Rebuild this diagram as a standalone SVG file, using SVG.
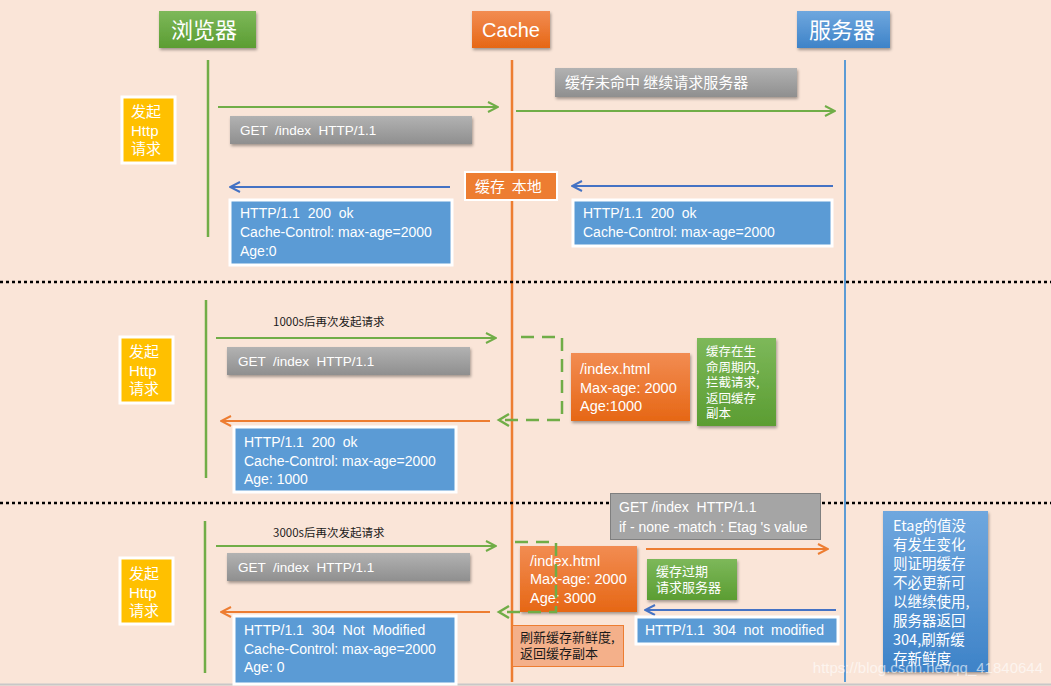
<svg xmlns="http://www.w3.org/2000/svg" width="1051" height="686" viewBox="0 0 1051 686">
<defs>
<style>
text{white-space:pre}
.t{font-family:"Liberation Sans","Noto Sans CJK SC",sans-serif;fill:#ffffff}
.cj{font-family:"Noto Sans CJK SC","Liberation Sans",sans-serif;fill:#ffffff}
.dk{fill:#1a1a1a}
.grn{stroke:#70ad47;stroke-width:2;fill:none}
.org{stroke:#ed7d31;stroke-width:2;fill:none}
.blu{stroke:#4472c4;stroke-width:2;fill:none}
.dash{stroke:#70ad47;stroke-width:2.5;fill:none;stroke-dasharray:13,8}
.sep{stroke:#000;stroke-width:2.5;stroke-dasharray:3,3;fill:none}
.box-blue{fill:#5b9bd5;stroke:#ffffff;stroke-width:3}
.box-yel{fill:#ffc000;stroke:#ffffff;stroke-width:3}
</style>
<linearGradient id="gGray" x1="0" y1="0" x2="0" y2="1"><stop offset="0" stop-color="#b2b2b2"/><stop offset="1" stop-color="#8f8f8f"/></linearGradient>
<linearGradient id="gOrg" x1="0" y1="0" x2="0" y2="1"><stop offset="0" stop-color="#f28c52"/><stop offset="1" stop-color="#e66715"/></linearGradient>
<linearGradient id="gGrn" x1="0" y1="0" x2="0" y2="1"><stop offset="0" stop-color="#7db85a"/><stop offset="1" stop-color="#5b9d32"/></linearGradient>
<linearGradient id="gBlu" x1="0" y1="0" x2="0" y2="1"><stop offset="0" stop-color="#6fa7de"/><stop offset="1" stop-color="#3e83c8"/></linearGradient>
<filter id="sh" x="-10%" y="-10%" width="130%" height="140%"><feDropShadow dx="1" dy="2" stdDeviation="1.5" flood-color="#000" flood-opacity="0.35"/></filter>
<marker id="aG" viewBox="0 0 12 12" refX="11" refY="6" markerWidth="12" markerHeight="12" markerUnits="userSpaceOnUse" orient="auto"><path d="M1,1 L11,6 L1,11" fill="none" stroke="#70ad47" stroke-width="2"/></marker>
<marker id="aO" viewBox="0 0 12 12" refX="11" refY="6" markerWidth="12" markerHeight="12" markerUnits="userSpaceOnUse" orient="auto"><path d="M1,1 L11,6 L1,11" fill="none" stroke="#ed7d31" stroke-width="2"/></marker>
<marker id="aB" viewBox="0 0 12 12" refX="11" refY="6" markerWidth="12" markerHeight="12" markerUnits="userSpaceOnUse" orient="auto"><path d="M1,1 L11,6 L1,11" fill="none" stroke="#4472c4" stroke-width="2"/></marker>
</defs>
<rect x="0" y="0" width="1051" height="686" fill="#fae5d8"/>
<line x1="0" y1="684.5" x2="1051" y2="684.5" stroke="#c8c8c8" stroke-width="2"/>

<g id="lifelines">
<line x1="208" y1="60" x2="208" y2="237" stroke="#70ad47" stroke-width="2.5"/>
<line x1="206" y1="300" x2="206" y2="478" stroke="#70ad47" stroke-width="2.5"/>
<line x1="205" y1="521" x2="205" y2="673" stroke="#70ad47" stroke-width="2.5"/>
<line x1="512" y1="60" x2="512" y2="682" stroke="#ed7d31" stroke-width="2.5"/>
<line x1="845" y1="60" x2="845" y2="682" stroke="#5b9bd5" stroke-width="2"/>
</g>

<g id="separators">
<line class="sep" x1="0" y1="282" x2="1051" y2="282"/>
<line class="sep" x1="0" y1="503" x2="1051" y2="503"/>
</g>

<g id="header-browser"><rect x="159" y="11" width="97" height="37" fill="url(#gGrn)" filter="url(#sh)"/><text class="cj" x="204" y="38" font-size="22" text-anchor="middle">浏览器</text></g>
<g id="header-cache"><rect x="472" y="11" width="78" height="37" fill="url(#gOrg)" filter="url(#sh)"/><text class="t" x="511" y="37" font-size="20" text-anchor="middle">Cache</text></g>
<g id="header-server"><rect x="797" y="11" width="93" height="37" fill="url(#gBlu)" filter="url(#sh)"/><text class="cj" x="842" y="38" font-size="22" text-anchor="middle">服务器</text></g>

<g id="connectors">
<line class="grn" x1="218" y1="107" x2="498" y2="107" marker-end="url(#aG)"/>
<line class="grn" x1="516" y1="111" x2="835" y2="111" marker-end="url(#aG)"/>
<line class="blu" x1="833" y1="186" x2="572" y2="186" marker-end="url(#aB)"/>
<line class="blu" x1="450" y1="187" x2="230" y2="187" marker-end="url(#aB)"/>
<line class="grn" x1="216" y1="338" x2="496" y2="338" marker-end="url(#aG)"/>
<line class="org" x1="490" y1="421" x2="221" y2="421" marker-end="url(#aO)"/>
<line class="grn" x1="216" y1="546" x2="496" y2="546" marker-end="url(#aG)"/>
<line class="org" x1="490" y1="612" x2="221" y2="612" marker-end="url(#aO)"/>
<line class="org" x1="646" y1="549" x2="828" y2="549" marker-end="url(#aO)"/>
<line class="blu" x1="836" y1="610" x2="645" y2="610" marker-end="url(#aB)"/>
<path class="dash" d="M521,337 H562 V420 H499"/>
<path d="M509,414 L499,420 L509,426" fill="none" stroke="#70ad47" stroke-width="2.5"/>
</g>

<g id="s1-start"><rect class="box-yel" x="122" y="97" width="53" height="66"/><text class="cj" x="131" y="117" font-size="15">发起</text><text class="t" x="131" y="136" font-size="15">Http</text><text class="cj" x="131" y="154" font-size="15">请求</text></g>
<g id="s1-get"><rect x="230" y="116" width="242" height="28" fill="url(#gGray)" filter="url(#sh)"/><text class="t" x="240" y="135" font-size="13.5">GET  /index  HTTP/1.1</text></g>
<g id="s1-miss"><rect x="555" y="68" width="242" height="29" fill="url(#gGray)" filter="url(#sh)"/><text class="cj" x="565" y="88" font-size="15">缓存未命中 继续请求服务器</text></g>
<g id="s1-store"><rect x="465" y="172" width="92" height="28" fill="#ed7d31" stroke="#ffffff" stroke-width="2"/><text class="cj" x="475" y="192" font-size="15">缓存  本地</text></g>
<g id="s1-resp-browser"><rect class="box-blue" x="230" y="200" width="222" height="65"/><text class="t" x="240" y="218" font-size="14">HTTP/1.1  200  ok</text><text class="t" x="240" y="237" font-size="14">Cache-Control: max-age=2000</text><text class="t" x="240" y="256" font-size="14">Age:0</text></g>
<g id="s1-resp-server"><rect class="box-blue" x="573" y="200" width="259" height="46"/><text class="t" x="583" y="218" font-size="14">HTTP/1.1  200  ok</text><text class="t" x="583" y="237" font-size="14">Cache-Control: max-age=2000</text></g>

<g id="s2-start"><rect class="box-yel" x="120" y="337" width="53" height="66"/><text class="cj" x="129" y="357" font-size="15">发起</text><text class="t" x="129" y="376" font-size="15">Http</text><text class="cj" x="129" y="394" font-size="15">请求</text></g>
<g id="s2-label"><text class="cj dk" x="273" y="326" font-size="11.5">1000s后再次发起请求</text></g>
<g id="s2-get"><rect x="227" y="347" width="243" height="28" fill="url(#gGray)" filter="url(#sh)"/><text class="t" x="238" y="366" font-size="13.5">GET  /index  HTTP/1.1</text></g>
<g id="s2-cache"><rect x="571" y="353" width="119" height="68" fill="url(#gOrg)" filter="url(#sh)"/><text class="t" x="580" y="374" font-size="14.5">/index.html</text><text class="t" x="580" y="393" font-size="14.5">Max-age: 2000</text><text class="t" x="580" y="411" font-size="14.5">Age:1000</text></g>
<g id="s2-note"><rect x="697" y="338" width="79" height="88" fill="url(#gGrn)" filter="url(#sh)"/><text class="cj" x="706" y="356" font-size="12.5">缓存在生</text><text class="cj" x="706" y="371.5" font-size="12.5">命周期内,</text><text class="cj" x="706" y="387" font-size="12.5">拦截请求,</text><text class="cj" x="706" y="402.5" font-size="12.5">返回缓存</text><text class="cj" x="706" y="418" font-size="12.5">副本</text></g>
<g id="s2-resp"><rect class="box-blue" x="234" y="427" width="222" height="65"/><text class="t" x="244" y="447" font-size="14">HTTP/1.1  200  ok</text><text class="t" x="244" y="466" font-size="14">Cache-Control: max-age=2000</text><text class="t" x="244" y="484" font-size="14">Age: 1000</text></g>

<g id="s3-start"><rect class="box-yel" x="120" y="558" width="53" height="66"/><text class="cj" x="129" y="579" font-size="15">发起</text><text class="t" x="129" y="598" font-size="15">Http</text><text class="cj" x="129" y="616" font-size="15">请求</text></g>
<g id="s3-label"><text class="cj dk" x="273" y="537" font-size="11.5">3000s后再次发起请求</text></g>
<g id="s3-get"><rect x="227" y="553" width="243" height="28" fill="url(#gGray)" filter="url(#sh)"/><text class="t" x="238" y="572" font-size="13.5">GET  /index  HTTP/1.1</text></g>
<g id="s3-cond"><rect x="610.5" y="493.5" width="210" height="46" fill="#a5a5a5" stroke="#7f7f7f" stroke-width="1"/><text class="t" x="619" y="512" font-size="14">GET /index  HTTP/1.1</text><text class="t" x="619" y="532" font-size="14">if - none -match : Etag 's value</text></g>
<g id="s3-cache"><rect x="520" y="546" width="117" height="66" fill="url(#gOrg)" filter="url(#sh)"/><text class="t" x="530" y="566" font-size="14.5">/index.html</text><text class="t" x="530" y="584" font-size="14.5">Max-age: 2000</text><text class="t" x="530" y="603" font-size="14.5">Age: 3000</text></g>
<g id="s3-loop"><path class="dash" d="M515,542 H556 V612 H499"/><path d="M509,606 L499,612 L509,618" fill="none" stroke="#70ad47" stroke-width="2.5"/></g>
<g id="s3-expired"><rect x="647" y="559" width="90" height="41" fill="url(#gGrn)" filter="url(#sh)"/><text class="cj" x="656" y="576" font-size="13">缓存过期</text><text class="cj" x="656" y="592" font-size="13">请求服务器</text></g>
<g id="s3-resp-server"><rect class="box-blue" x="636" y="617" width="202" height="27"/><text class="t" x="645" y="635" font-size="14">HTTP/1.1  304  not  modified</text></g>
<g id="s3-refresh"><rect x="512.5" y="625.5" width="111" height="41" fill="#f4b08a" stroke="#ed7d31" stroke-width="1"/><text class="cj dk" x="520" y="642" font-size="13">刷新缓存新鲜度,</text><text class="cj dk" x="520" y="658" font-size="13">返回缓存副本</text></g>
<g id="s3-resp-browser"><rect class="box-blue" x="234" y="616" width="222" height="68"/><text class="t" x="244" y="635" font-size="14">HTTP/1.1  304  Not  Modified</text><text class="t" x="244" y="654" font-size="14">Cache-Control: max-age=2000</text><text class="t" x="244" y="672" font-size="14">Age: 0</text></g>
<g id="s3-etag"><rect x="883" y="511" width="105" height="161" fill="url(#gBlu)" filter="url(#sh)"/>
<text class="cj" x="893" y="531" font-size="14.5">Etag的值没</text><text class="cj" x="893" y="550" font-size="14.5">有发生变化</text><text class="cj" x="893" y="569" font-size="14.5">则证明缓存</text><text class="cj" x="893" y="588" font-size="14.5">不必更新可</text><text class="cj" x="893" y="607" font-size="14.5">以继续使用,</text><text class="cj" x="893" y="626" font-size="14.5">服务器返回</text><text class="cj" x="893" y="645" font-size="14.5">304,刷新缓</text><text class="cj" x="893" y="664" font-size="14.5">存新鲜度</text></g>
<text x="1043" y="673" font-family="Liberation Sans,sans-serif" font-size="15" fill="#ffffff" fill-opacity="0.6" text-anchor="end">https://blog.csdn.net/qq_41840644</text>
</svg>
